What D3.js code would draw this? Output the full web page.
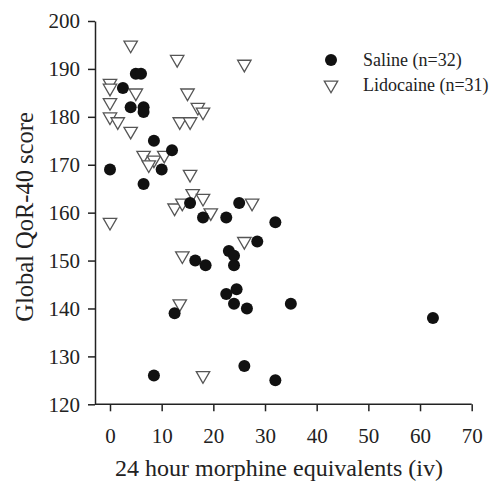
<!DOCTYPE html>
<html>
<head>
<meta charset="utf-8">
<script src="https://cdn.jsdelivr.net/npm/d3@7"></script>
<style>
  body { margin: 0; background: #fff; }
  text { font-family: "Liberation Serif", "DejaVu Serif", serif; fill: #222; }
</style>
</head>
<body>
<div id="chart"></div>
<script>
// values
var salineX = [0, 2.5, 4, 5, 6, 6.5, 6.5, 8.5, 12, 10, 6.5, 15.5, 18, 22.5, 25, 32,
               28.5, 23, 24, 24, 16.5, 18.5, 22.5, 24.5, 24, 26.5, 12.5, 8.5, 26, 35, 32, 62.5];
var salineY = [169, 186, 182, 189, 189, 182, 181, 175, 173, 169, 166, 162, 159, 159, 162, 158,
               154, 152, 151, 149, 150, 149, 143, 144, 141, 140, 139, 126, 128, 141, 125, 138];
var lidoX = [4, 13, 26, 0, 0, 5, 15, 0, 17, 18, 0, 1.5, 13.5, 15.5, 4, 6.5,
             8.5, 10.5, 7.5, 15.5, 16, 18, 12.5, 14, 19.5, 0, 27.5, 26, 14, 13.5, 18];
var lidoY = [195, 192, 191, 187, 186, 185, 185, 183, 182, 181, 180, 179, 179, 179, 177, 172,
             171, 172, 170, 168, 164, 163, 161, 162, 160, 158, 162, 154, 151, 141, 126];
var xTicks = [0, 10, 20, 30, 40, 50, 60, 70];
var yTicks = [120, 130, 140, 150, 160, 170, 180, 190, 200];
var seriesNames = ["Saline (n=32)", "Lidocaine (n=31)"];

var width = 497, height = 483;

var svg = d3.select("#chart").append("svg")
    .attr("width", width)
    .attr("height", height);

var x = d3.scaleLinear().domain([0, 70]).range([110, 471.7]);
var y = d3.scaleLinear().domain([120, 200]).range([404.3, 21]);
var axisLeftX = 95;

// y axis
var gy = svg.append("g")
    .attr("transform", "translate(" + axisLeftX + ",0)")
    .call(d3.axisLeft(y).tickValues(yTicks).tickSize(7).tickPadding(8).tickSizeOuter(0));
gy.selectAll("text").style("font-size", "21px").style("font-family", "Liberation Serif");

// x axis (domain line drawn by hand so it meets the y axis)
var gx = svg.append("g")
    .attr("transform", "translate(0," + y(120) + ")")
    .call(d3.axisBottom(x).tickValues(xTicks).tickSize(7).tickPadding(17));
gx.select(".domain").remove();
gx.selectAll("text").style("font-size", "21px").style("font-family", "Liberation Serif");
gx.append("line")
    .attr("x1", axisLeftX).attr("x2", x(70))
    .attr("y1", 0).attr("y2", 0)
    .attr("stroke", "currentColor");

svg.selectAll(".domain, .tick line").attr("stroke", "#222").attr("stroke-width", 1.5);
gx.selectAll("line").attr("stroke", "#222").attr("stroke-width", 1.5);

// titles
svg.append("text")
    .attr("x", 279)
    .attr("y", 476)
    .attr("text-anchor", "middle")
    .style("font-size", "24px")
    .text("24 hour morphine equivalents (iv)");

svg.append("text")
    .attr("transform", "translate(33,217) rotate(-90)")
    .attr("text-anchor", "middle")
    .style("font-size", "24.5px")
    .text("Global QoR-40 score");

var tri = d3.symbol().type(d3.symbolTriangle).size(78);

// lidocaine: open down triangles
svg.append("g").selectAll("path")
    .data(lidoX)
    .join("path")
    .attr("d", tri)
    .attr("transform", function (d, i) { return "translate(" + x(d) + "," + y(lidoY[i]) + ") rotate(180)"; })
    .attr("fill", "#fff")
    .attr("stroke", "#555")
    .attr("stroke-width", 1.3);

// saline: filled circles
svg.append("g").selectAll("circle")
    .data(salineX)
    .join("circle")
    .attr("cx", function (d) { return x(d); })
    .attr("cy", function (d, i) { return y(salineY[i]); })
    .attr("r", 6)
    .attr("fill", "#111");

// legend
var legend = svg.append("g");
legend.append("circle")
    .attr("cx", 331).attr("cy", 60).attr("r", 6)
    .attr("fill", "#111");
legend.append("path")
    .attr("d", tri)
    .attr("transform", "translate(331,85) rotate(180)")
    .attr("fill", "#fff")
    .attr("stroke", "#555")
    .attr("stroke-width", 1.3);
legend.selectAll("text")
    .data(seriesNames)
    .join("text")
    .attr("x", 363)
    .attr("y", function (d, i) { return 60 + i * 25; })
    .attr("dy", "0.33em")
    .style("font-size", "18px")
    .text(function (d) { return d; });
</script>
</body>
</html>
